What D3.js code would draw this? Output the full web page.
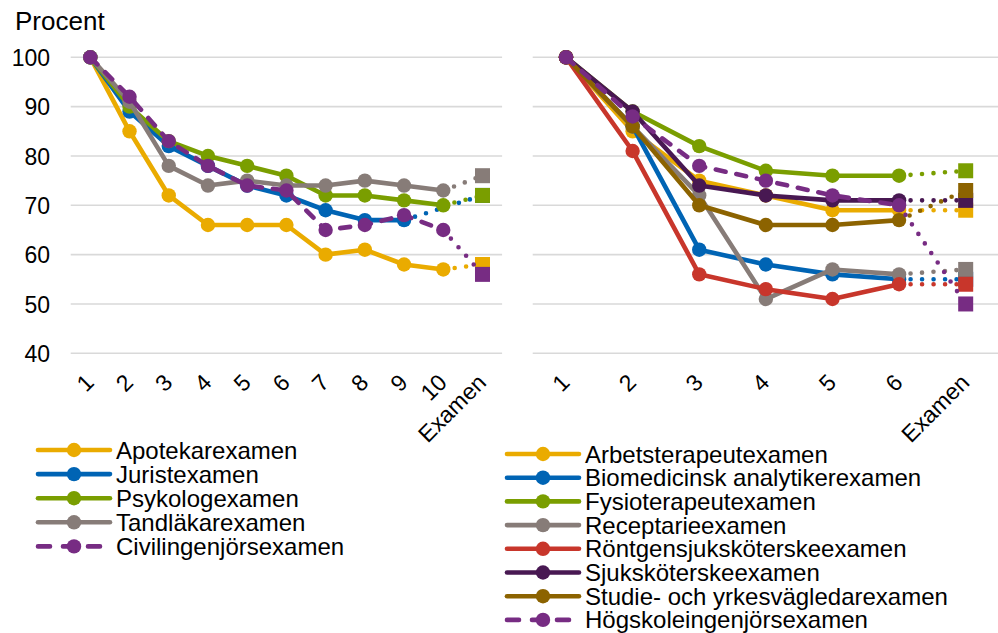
<!DOCTYPE html>
<html>
<head>
<meta charset="utf-8">
<script src="https://cdn.jsdelivr.net/npm/d3@7"></script>
<style>
  body { margin: 0; background: #fff; }
  svg text { font-family: "Liberation Sans", Arial, sans-serif; fill: #000; }
</style>
</head>
<body>
<svg id="chart" width="998" height="633"></svg>
<script>
// ---------- DATA ----------
const yTicks = [40, 50, 60, 70, 80, 90, 100];
const yLabel = "Procent";

const leftCategories = ["1", "2", "3", "4", "5", "6", "7", "8", "9", "10", "Examen"];
const rightCategories = ["1", "2", "3", "4", "5", "6", "Examen"];

// Left panel series
const apotekarexamen       = [100, 85, 72, 66, 66, 66, 60, 61, 58, 57, 58];
const juristexamen         = [100, 89, 82, 78, 74, 72, 69, 67, 67, null, 72];
const psykologexamen       = [100, 90, 83, 80, 78, 76, 72, 72, 71, 70, 72];
const tandlakarexamen      = [100, 91, 78, 74, 75, 74, 74, 75, 74, 73, 76];
const civilingenjorsexamen = [100, 92, 83, 78, 74, 73, 65, 66, 68, 65, 56];

// Right panel series
const arbetsterapeutexamen  = [100, 85, 75, 72, 69, 69, 69];
const biomedicinskexamen    = [100, 86, 61, 58, 56, 55, 55];
const fysioterapeutexamen   = [100, 89, 82, 77, 76, 76, 77];
const receptarieexamen      = [100, 86, 72, 51, 57, 56, 57];
const rontgenexamen         = [100, 81, 56, 53, 51, 54, 54];
const sjukskoterskeexamen   = [100, 89, 74, 72, 71, 71, 71];
const studievagledarexamen  = [100, 86, 70, 66, 66, 67, 73];
const hogskoleingenjorexamen= [100, 88, 78, 75, 72, 70, 50];

const leftSeries = [
  { name: "Apotekarexamen", values: apotekarexamen, color: "#EAAB00", dashed: false },
  { name: "Juristexamen", values: juristexamen, color: "#0064B4", dashed: false },
  { name: "Psykologexamen", values: psykologexamen, color: "#7A9E00", dashed: false },
  { name: "Tandläkarexamen", values: tandlakarexamen, color: "#877C78", dashed: false },
  { name: "Civilingenjörsexamen", values: civilingenjorsexamen, color: "#772C83", dashed: true }
];
const rightSeries = [
  { name: "Arbetsterapeutexamen", values: arbetsterapeutexamen, color: "#EAAB00", dashed: false },
  { name: "Biomedicinsk analytikerexamen", values: biomedicinskexamen, color: "#0064B4", dashed: false },
  { name: "Fysioterapeutexamen", values: fysioterapeutexamen, color: "#7A9E00", dashed: false },
  { name: "Receptarieexamen", values: receptarieexamen, color: "#877C78", dashed: false },
  { name: "Röntgensjuksköterskeexamen", values: rontgenexamen, color: "#C8362B", dashed: false },
  { name: "Sjuksköterskeexamen", values: sjukskoterskeexamen, color: "#481852", dashed: false },
  { name: "Studie- och yrkesvägledarexamen", values: studievagledarexamen, color: "#8C6300", dashed: false },
  { name: "Högskoleingenjörsexamen", values: hogskoleingenjorexamen, color: "#772C83", dashed: true }
];

// ---------- DRAWING ----------
const svg = d3.select("#chart");
svg.append("rect").attr("width", 998).attr("height", 633).attr("fill", "#fff");

const y = d3.scaleLinear().domain([40, 100]).range([353.3, 57.3]);
const FS = 23;
const LFS = 24;
const LW = 4.6;
const R = 7.2;
const SQ = 15;

function panel(categories, series, x0, x1, showY) {
  const x = d3.scaleBand().domain(categories).range([x0, x1]);
  const cx = c => x(c) + x.bandwidth() / 2;
  const g = svg.append("g");

  // gridlines
  g.selectAll("line.grid").data(yTicks).join("line")
    .attr("x1", x0).attr("x2", x1)
    .attr("y1", d => y(d)).attr("y2", d => y(d))
    .attr("stroke", "#d9d9d9").attr("stroke-width", 1.6);

  if (showY) {
    const ax = d3.axisLeft(y).tickValues(yTicks).tickSize(0).tickPadding(0);
    const ag = g.append("g").attr("transform", `translate(50,0)`).call(ax);
    ag.select(".domain").remove();
    ag.selectAll("text").attr("font-size", FS).attr("font-family", "Liberation Sans, Arial, sans-serif")
      .attr("fill", "#000").attr("dy", "0.35em").attr("x", 0);
  }

  // x labels
  const xa = d3.axisBottom(x).tickSize(0);
  const xg = g.append("g").call(xa);
  xg.select(".domain").remove();
  xg.selectAll(".tick").attr("transform", d => `translate(${cx(d) + 5},384)`);
  xg.selectAll(".tick text")
    .attr("font-size", FS).attr("font-family", "Liberation Sans, Arial, sans-serif")
    .attr("fill", "#000")
    .attr("text-anchor", "end").attr("x", 0).attr("y", 0).attr("dy", 0)
    .attr("transform", "rotate(-45)");

  const lastIdx = categories.length - 1;
  series.forEach(s => {
    const pts = s.values.map((v, i) => ({ c: categories[i], v, i }));
    const main = pts.filter(p => p.i < lastIdx && p.v != null);
    const line = d3.line().x(p => cx(p.c)).y(p => y(p.v));
    g.append("path").datum(main).attr("d", line)
      .attr("fill", "none").attr("stroke", s.color).attr("stroke-width", LW)
      .attr("stroke-linejoin", "round").attr("stroke-linecap", s.dashed ? "round" : "butt")
      .attr("stroke-dasharray", s.dashed ? "10 11" : null);
    const lastPt = main[main.length - 1];
    const ex = pts[lastIdx];
    if (ex.v != null) {
      g.append("path").datum([lastPt, ex]).attr("d", line)
        .attr("fill", "none").attr("stroke", s.color).attr("stroke-width", LW)
        .attr("stroke-linecap", "round").attr("stroke-dasharray", "0 11.5");
      g.append("rect")
        .attr("x", cx(ex.c) - SQ / 2).attr("y", y(ex.v) - SQ / 2)
        .attr("width", SQ).attr("height", SQ).attr("fill", s.color);
    }
    g.selectAll(null).data(main).join("circle")
      .attr("cx", p => cx(p.c)).attr("cy", p => y(p.v)).attr("r", R).attr("fill", s.color);
  });
}

panel(leftCategories, leftSeries, 70.7, 502.1, true);
panel(rightCategories, rightSeries, 532.7, 999, false);

svg.append("text").attr("x", 15).attr("y", 30).attr("font-size", 26).text(yLabel);

function legend(series, lx, ly, step) {
  const g = svg.append("g");
  series.forEach((s, i) => {
    const yy = ly + i * step;
    g.append("line").attr("x1", lx).attr("x2", lx + 72).attr("y1", yy).attr("y2", yy)
      .attr("stroke", s.color).attr("stroke-width", LW)
      .attr("stroke-linecap", "round")
      .attr("stroke-dasharray", s.dashed ? "12 13" : null);
    g.append("circle").attr("cx", lx + 36).attr("cy", yy).attr("r", R).attr("fill", s.color);
    g.append("text").attr("x", lx + 78).attr("y", yy + 8.5).attr("font-size", LFS).text(s.name);
  });
}
legend(leftSeries, 38, 450, 24.1);
legend(rightSeries, 507, 454, 23.7);
</script>
</body>
</html>
